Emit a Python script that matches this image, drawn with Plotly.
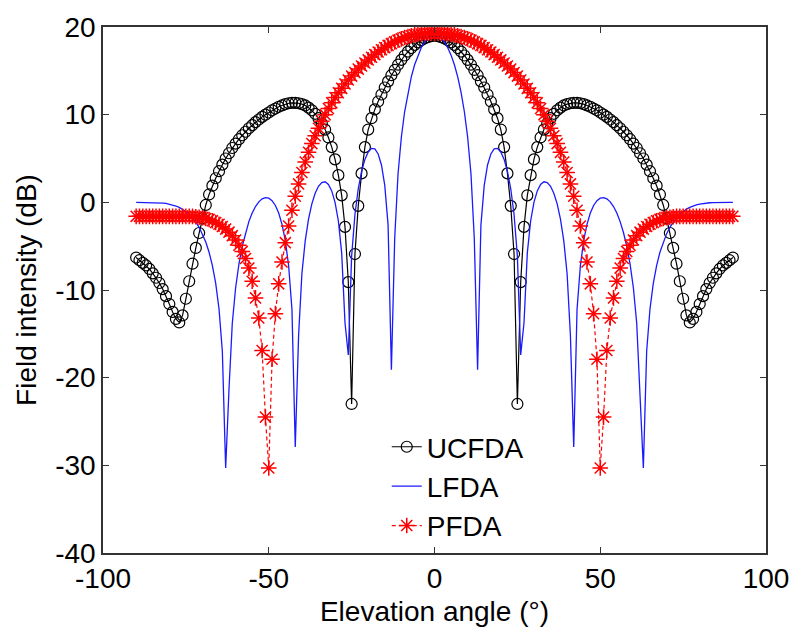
import plotly.graph_objects as go

# Elevation angle samples (degrees), one per degree
angles = list(range(-90, 91))

# Field intensity (dB) of the three array configurations
ucfda = [
    -6.3, -6.6, -6.9, -7.2, -7.6, -8.1, -8.6, -9.2, -9.9, -10.7,
    -11.6, -12.5, -13.3, -13.7, -12.9, -11.0, -9.0, -7.0, -5.2, -3.5,
    -1.8, -0.3, 0.9, 1.9, 2.75, 3.55, 4.3, 5.0, 5.6, 6.2,
    6.7, 7.2, 7.65, 8.05, 8.45, 8.8, 9.15, 9.45, 9.75, 10.0,
    10.25, 10.5, 10.7, 10.9, 11.05, 11.2, 11.3, 11.35, 11.35, 11.3,
    11.2, 11.05, 10.8, 10.5, 10.1, 9.6, 9.0, 8.3, 7.4, 6.3,
    4.9, 3.1, 0.8, -2.8, -9.1, -23.0, -5.9, -0.4, 3.3, 6.3,
    8.3, 9.6, 10.6, 11.5, 12.3, 13.1, 13.8, 14.5, 15.1, 15.7,
    16.25, 16.75, 17.2, 17.6, 17.95, 18.25, 18.5, 18.7, 18.85, 18.95,
    19.0,
    18.95, 18.85, 18.7, 18.5, 18.25, 17.95, 17.6, 17.2, 16.75, 16.25,
    15.7, 15.1, 14.5, 13.8, 13.1, 12.3, 11.5, 10.6, 9.6, 8.3,
    6.3, 3.3, -0.4, -5.9, -23.0, -9.1, -2.8, 0.8, 3.1, 4.9,
    6.3, 7.4, 8.3, 9.0, 9.6, 10.1, 10.5, 10.8, 11.05, 11.2,
    11.3, 11.35, 11.35, 11.3, 11.2, 11.05, 10.9, 10.7, 10.5, 10.25,
    10.0, 9.75, 9.45, 9.15, 8.8, 8.45, 8.05, 7.65, 7.2, 6.7,
    6.2, 5.6, 5.0, 4.3, 3.55, 2.75, 1.9, 0.9, -0.3, -1.8,
    -3.5, -5.2, -7.0, -9.0, -11.0, -12.9, -13.7, -13.3, -12.5, -11.6,
    -10.7, -9.9, -9.2, -8.6, -8.1, -7.6, -7.2, -6.9, -6.6, -6.3,
]

lfda = [
    0.0, 0.0, 0.0, 0.0, 0.0, -0.01, -0.03, -0.05, -0.08, -0.13,
    -0.20, -0.29, -0.42, -0.58, -0.78, -1.04, -1.36, -1.75, -2.24, -2.85,
    -3.60, -4.53, -5.70, -7.22, -9.25, -12.17, -16.99, -30.3, -21.38, -13.80,
    -9.77, -7.04, -5.01, -3.44, -2.20, -1.22, -0.48, 0.06, 0.40, 0.54,
    0.48, 0.19, -0.36, -1.22, -2.51, -4.38, -7.24, -12.22, -27.9, -15.18,
    -8.15, -4.39, -1.92, -0.18, 1.03, 1.83, 2.26, 2.34, 2.04, 1.30,
    0.0, -2.13, -5.76, -13.74, -17.4, -6.14, -1.39, 1.55, 3.54, 4.90,
    5.75, 6.15, 6.10, 5.52, 4.26, 1.94, -2.60, -19.1, -4.07, 3.26,
    7.43, 10.36, 12.57, 14.31, 15.69, 16.79, 17.64, 18.29, 18.73, 19.00,
    19.08,
    19.00, 18.73, 18.29, 17.64, 16.79, 15.69, 14.31, 12.57, 10.36, 7.43,
    3.26, -4.07, -19.1, -2.60, 1.94, 4.26, 5.52, 6.10, 6.15, 5.75,
    4.90, 3.54, 1.55, -1.39, -6.14, -17.4, -13.74, -5.76, -2.13, 0.0,
    1.30, 2.04, 2.34, 2.26, 1.83, 1.03, -0.18, -1.92, -4.39, -8.15,
    -15.18, -27.9, -12.22, -7.24, -4.38, -2.51, -1.22, -0.36, 0.19, 0.48,
    0.54, 0.40, 0.06, -0.48, -1.22, -2.20, -3.44, -5.01, -7.04, -9.77,
    -13.80, -21.38, -30.3, -16.99, -12.17, -9.25, -7.22, -5.70, -4.53, -3.60,
    -2.85, -2.24, -1.75, -1.36, -1.04, -0.78, -0.58, -0.42, -0.29, -0.20,
    -0.13, -0.08, -0.05, -0.03, -0.01, 0.0, 0.0, 0.0, 0.0, 0.0,
]

pfda = [
    -1.6, -1.6, -1.6, -1.6, -1.6, -1.6, -1.6, -1.6, -1.6, -1.6,
    -1.6, -1.6, -1.6, -1.6, -1.6, -1.6, -1.6, -1.6, -1.65, -1.7,
    -1.75, -1.85, -1.95, -2.1, -2.3, -2.5, -2.75, -3.05, -3.4, -3.8,
    -4.3, -4.9, -5.6, -6.4, -7.5, -9.0, -10.9, -13.2, -16.9, -24.5,
    -30.3, -17.9, -12.7, -9.3, -6.8, -4.6, -2.7, -0.9, 0.7, 2.1,
    3.4, 4.6, 5.7, 6.7, 7.6, 8.45, 9.25, 10.0, 10.7, 11.35,
    11.95, 12.5, 13.0, 13.5, 13.95, 14.4, 14.8, 15.2, 15.55, 15.9,
    16.25, 16.55, 16.85, 17.15, 17.4, 17.65, 17.9, 18.1, 18.3, 18.5,
    18.65, 18.8, 18.9, 19.0, 19.1, 19.15, 19.2, 19.25, 19.28, 19.3,
    19.3,
    19.3, 19.28, 19.25, 19.2, 19.15, 19.1, 19.0, 18.9, 18.8, 18.65,
    18.5, 18.3, 18.1, 17.9, 17.65, 17.4, 17.15, 16.85, 16.55, 16.25,
    15.9, 15.55, 15.2, 14.8, 14.4, 13.95, 13.5, 13.0, 12.5, 11.95,
    11.35, 10.7, 10.0, 9.25, 8.45, 7.6, 6.7, 5.7, 4.6, 3.4,
    2.1, 0.7, -0.9, -2.7, -4.6, -6.8, -9.3, -12.7, -17.9, -30.3,
    -24.5, -16.9, -13.2, -10.9, -9.0, -7.5, -6.4, -5.6, -4.9, -4.3,
    -3.8, -3.4, -3.05, -2.75, -2.5, -2.3, -2.1, -1.95, -1.85, -1.75,
    -1.7, -1.65, -1.6, -1.6, -1.6, -1.6, -1.6, -1.6, -1.6, -1.6,
    -1.6, -1.6, -1.6, -1.6, -1.6, -1.6, -1.6, -1.6, -1.6, -1.6,
]

x_tick_vals = [-100, -50, 0, 50, 100]
x_tick_text = ["-100", "-50", "0", "50", "100"]
y_tick_vals = [-40, -30, -20, -10, 0, 10, 20]
y_tick_text = ["-40", "-30", "-20", "-10", "0", "10", "20"]

FONT = "Arial, 'Liberation Sans', sans-serif"
AXIS = "#333333"

fig = go.Figure()

fig.add_trace(go.Scatter(
    x=angles, y=ucfda, name="UCFDA", mode="lines+markers",
    line=dict(color="black", width=1.2),
    marker=dict(symbol="circle-open", size=11, color="black",
                line=dict(color="black", width=1.2)),
))
fig.add_trace(go.Scatter(
    x=angles, y=lfda, name="LFDA", mode="lines",
    line=dict(color="#1a1aff", width=1.3),
))
fig.add_trace(go.Scatter(
    x=angles, y=pfda, name="PFDA", mode="lines+markers",
    line=dict(color="#ff0000", width=1.2, dash="4px,3px"),
    marker=dict(symbol="asterisk-open", size=13, color="#ff0000",
                line=dict(color="#ff0000", width=1.5)),
))

axis_common = dict(
    showline=True, linecolor=AXIS, linewidth=1.5, mirror="ticks",
    ticks="inside", ticklen=6, tickwidth=1.3, tickcolor=AXIS,
    showgrid=False, zeroline=False,
    tickfont=dict(family=FONT, size=28, color="black"),
)

fig.update_layout(
    width=801, height=634,
    margin=dict(l=103, r=27, t=20, b=78),
    paper_bgcolor="white", plot_bgcolor="white",
    font=dict(family=FONT, size=28, color="black"),
    xaxis=dict(
        range=[-100, 100], tickvals=x_tick_vals, ticktext=x_tick_text,
        title=dict(text="Elevation angle (°)", standoff=8,
                   font=dict(family=FONT, size=28, color="black")),
        **axis_common,
    ),
    yaxis=dict(
        range=[-40, 20], tickvals=y_tick_vals, ticktext=y_tick_text,
        title=dict(text="Field intensity (dB)", standoff=10,
                   font=dict(family=FONT, size=28, color="black")),
        **axis_common,
    ),
    legend=dict(
        x=0.428, y=0.249, xanchor="left", yanchor="top",
        bgcolor="rgba(0,0,0,0)", borderwidth=0,
        font=dict(family=FONT, size=28, color="black"),
        tracegroupgap=0,
    ),
)

fig.write_html("out.html")
